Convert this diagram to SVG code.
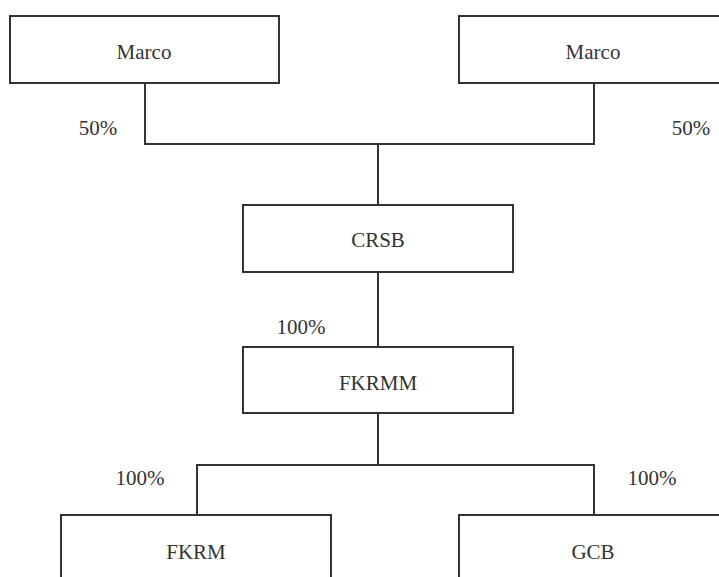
<svg xmlns="http://www.w3.org/2000/svg" width="719" height="577" viewBox="0 0 719 577">
<style>
.box{fill:#fff;stroke:#333;stroke-width:2}
.t{font-family:"Liberation Serif","Times New Roman",serif;font-size:21px;fill:#333;text-anchor:middle}
.c{fill:none;stroke:#333;stroke-width:2}
</style>
<rect width="719" height="577" fill="#fff"/>
<g id="connectors">
<polyline class="c" points="145,83 145,144 594,144 594,83"/>
<line class="c" x1="378" y1="144" x2="378" y2="205"/>
<line class="c" x1="378" y1="272" x2="378" y2="347"/>
<line class="c" x1="378" y1="413" x2="378" y2="465"/>
<polyline class="c" points="197,515 197,465 594,465 594,515"/>
<text class="t" x="98" y="135">50%</text>
<text class="t" x="691" y="135">50%</text>
<text class="t" x="301" y="334">100%</text>
<text class="t" x="140" y="485">100%</text>
<text class="t" x="652" y="485">100%</text>
</g>
<g id="marco1"><rect class="box" x="10" y="16" width="269" height="67"/><text class="t" x="144" y="59">Marco</text></g>
<g id="marco2"><rect class="box" x="459" y="16" width="270" height="67"/><text class="t" x="593" y="59">Marco</text></g>
<g id="crsb"><rect class="box" x="243" y="205" width="270" height="67"/><text class="t" x="378" y="247">CRSB</text></g>
<g id="fkrmm"><rect class="box" x="243" y="347" width="270" height="66"/><text class="t" x="378" y="390">FKRMM</text></g>
<g id="fkrm"><rect class="box" x="61" y="515" width="270" height="80"/><text class="t" x="196" y="559">FKRM</text></g>
<g id="gcb"><rect class="box" x="459" y="515" width="270" height="80"/><text class="t" x="593" y="559">GCB</text></g>
</svg>
